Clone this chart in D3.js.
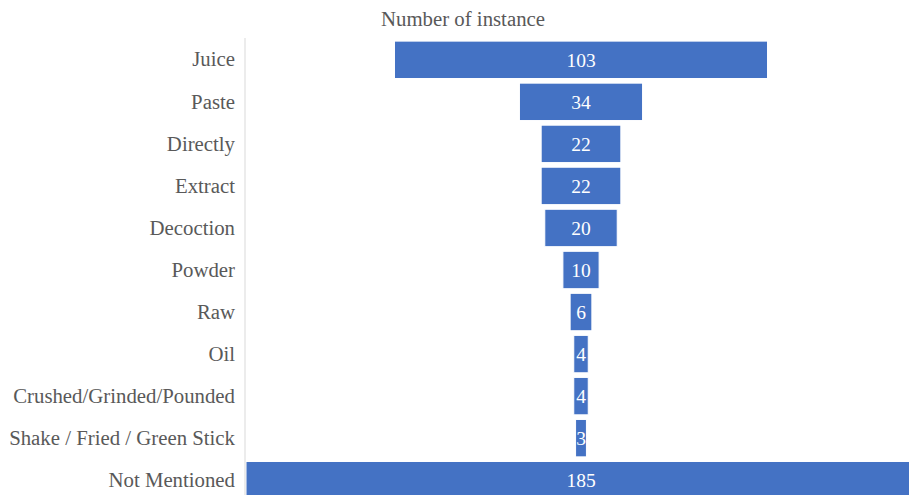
<!DOCTYPE html>
<html>
<head>
<meta charset="utf-8">
<script src="https://cdn.jsdelivr.net/npm/d3@7"></script>
<style>
  body { margin: 0; background: #fff; overflow: hidden; }
</style>
</head>
<body>
<svg id="chart"></svg>
<script>
var categories = ["Juice", "Paste", "Directly", "Extract", "Decoction", "Powder", "Raw", "Oil",
                  "Crushed/Grinded/Pounded", "Shake / Fried / Green Stick", "Not Mentioned"];
var values = [103, 34, 22, 22, 20, 10, 6, 4, 4, 3, 185];
var title = "Number of instance";

var width = 909;
var height = 495;
var axisX = 245;
var center = 581;
var serif = "'Liberation Serif', 'Times New Roman', Times, 'DejaVu Serif', serif";

var svg = d3.select("#chart")
    .attr("width", width)
    .attr("height", height)
    .style("font-family", serif);

var yScale = d3.scaleBand()
    .domain(categories)
    .range([39, 501])
    .paddingInner(0.11)
    .paddingOuter(0.05);

// funnel: bar width proportional to value, centred on one line
var wScale = d3.scaleLinear()
    .domain([0, d3.max(values)])
    .range([0, 670]);

var data = categories.map(function(c, i) { return {name: c, value: values[i]}; });

svg.append("g")
    .selectAll("rect")
    .data(data)
    .join("rect")
    .attr("x", d => center - wScale(d.value) / 2)
    .attr("y", d => yScale(d.name))
    .attr("width", d => wScale(d.value))
    .attr("height", yScale.bandwidth())
    .attr("fill", "#4472c4")
    .attr("stroke", "#ffffff")
    .attr("stroke-width", 1);

svg.append("g")
    .selectAll("text")
    .data(data)
    .join("text")
    .attr("x", center)
    .attr("y", d => yScale(d.name) + yScale.bandwidth() / 2)
    .attr("dy", "0.35em")
    .attr("text-anchor", "middle")
    .attr("fill", "#ffffff")
    .style("font-family", serif)
    .style("font-size", "19.5px")
    .text(d => d.value);

var yAxis = d3.axisLeft(yScale)
    .tickSize(0)
    .tickPadding(10);

var gy = svg.append("g")
    .attr("transform", "translate(" + axisX + ",0)")
    .call(yAxis);
gy.select(".domain").remove();
gy.selectAll("text")
    .attr("fill", "#595959")
    .style("font-family", serif)
    .style("font-size", "20.8px");

svg.append("line")
    .attr("x1", axisX).attr("x2", axisX)
    .attr("y1", 38).attr("y2", height)
    .attr("stroke", "#d9d9d9")
    .attr("stroke-width", 1);

svg.append("text")
    .attr("x", 463)
    .attr("y", 26)
    .attr("text-anchor", "middle")
    .attr("fill", "#595959")
    .style("font-family", serif)
    .style("font-size", "20.8px")
    .text(title);
</script>
</body>
</html>
